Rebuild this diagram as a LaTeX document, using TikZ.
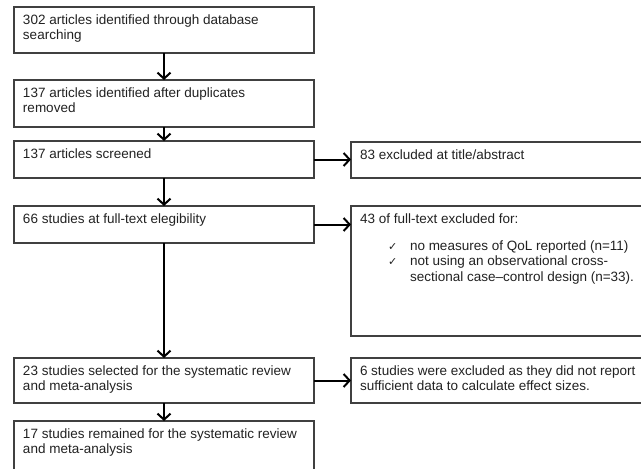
\documentclass[tikz,border=0pt]{standalone}
\usepackage{fontspec}
\setmainfont{Liberation Sans}
\newfontfamily\symfont{DejaVu Sans}
\usetikzlibrary{arrows.meta}
\definecolor{txt}{HTML}{222222}
\definecolor{brd}{HTML}{404040}
\newcommand{\bxtext}[3]{\parbox[c][#2][t]{#1}{\rule{0pt}{17pt}#3}}
\newcommand{\chk}{\hspace*{28pt}\makebox[22pt][l]{{\symfont\fontsize{11}{11}\selectfont ✓}}}
\begin{document}
\begin{tikzpicture}[x=1pt,y=-1pt,
  box/.style={draw=brd, line width=1.8pt, anchor=north west, inner xsep=9pt, inner ysep=0pt, outer sep=0pt,
    font=\fontsize{13.5}{15.5}\selectfont, text=txt},
  arr/.style={line width=2pt, -{Straight Barb[length=6pt,width=13pt]}}]
\useasboundingbox (0,0) rectangle (641,469);
\clip (0,0) rectangle (641,469);
\fill[white] (0,0) rectangle (641,469);

\node[box] (b1) at (14,7)   {\bxtext{282pt}{46pt}{302 articles identified through database\\searching}};
\node[box] (b2) at (14,80)  {\bxtext{282pt}{47pt}{137 articles identified after duplicates\\removed}};
\node[box] (b3) at (14,141) {\bxtext{282pt}{37pt}{137 articles screened}};
\node[box] (b4) at (14,206) {\bxtext{282pt}{37pt}{66 studies at full-text elegibility}};
\node[box] (b5) at (14,358) {\bxtext{282pt}{45pt}{23 studies selected for the systematic review\\and meta-analysis}};
\node[box] (b6) at (14,421) {\bxtext{282pt}{60pt}{17 studies remained for the systematic review\\and meta-analysis}};

\node[box] (r1) at (351,142) {\bxtext{282pt}{36pt}{83 excluded at title/abstract}};
\node[box] (r2) at (351,206) {\bxtext{282pt}{130pt}{43 of full-text excluded for:\\[11.5pt]
  \chk no measures of QoL reported (n=11)\\
  \chk not using an observational cross-\\
  \hspace*{50pt}sectional case--control design (n=33).}};
\node[box] (r3) at (351,358) {\bxtext{282pt}{45pt}{6 studies were excluded as they did not report\\sufficient data to calculate effect sizes.}};

\draw[arr] (b1.south) -- (b2.north);
\draw[arr] (b2.south) -- (b3.north);
\draw[arr] (b3.south) -- (b4.north);
\draw[arr] (b4.south) -- (b5.north);
\draw[arr] (b5.south) -- (b6.north);
\draw[arr] (b3.east) -- (b3.east -| r1.west);
\draw[arr] (b4.east) -- (b4.east -| r2.west);
\draw[arr] (b5.east) -- (b5.east -| r3.west);
\end{tikzpicture}
\end{document}
